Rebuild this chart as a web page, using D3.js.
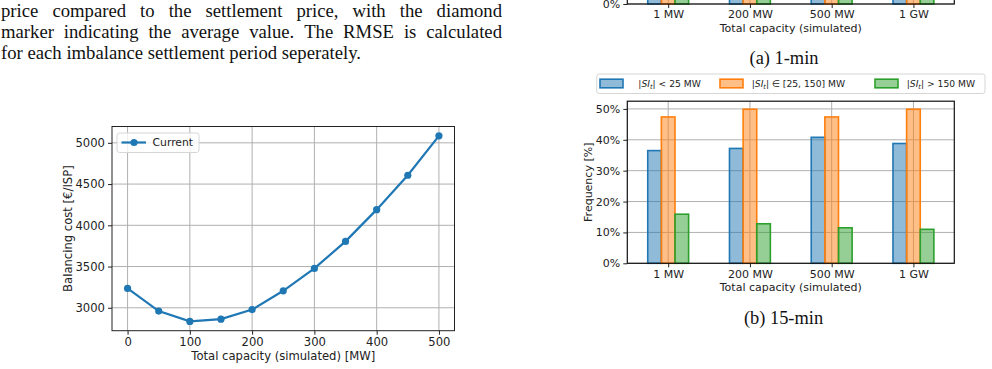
<!DOCTYPE html>
<html><head><meta charset="utf-8">
<script src="https://cdn.jsdelivr.net/npm/d3@7"></script>
<style>
html,body{margin:0;padding:0;background:#fff;}
svg{display:block;}
</style></head>
<body>
<script>
// ---------------- data ----------------
const capacityMW = [0, 50, 100, 150, 200, 250, 300, 350, 400, 450, 500];
const balancingCost = [3235, 2960, 2835, 2862, 2978, 3206, 3477, 3805, 4190, 4607, 5085];
const lineSeriesName = "Current";
const xTicksLeft = [0, 100, 200, 300, 400, 500];
const yTicksLeft = [3000, 3500, 4000, 4500, 5000];

const barCategories = ["1 MW", "200 MW", "500 MW", "1 GW"];
const freq15Small = [36.5, 37.2, 40.8, 38.8];
const freq15Mid = [47.4, 49.9, 47.4, 49.9];
const freq15Large = [15.9, 12.8, 11.5, 11.0];
// (a) 1-min panel: only the bar bases are visible in the crop (estimates)
const freq1Small = [36, 37, 40, 38];
const freq1Mid = [47, 49, 47, 49];
const freq1Large = [16, 13, 12, 11];
const yTicksPct = [0, 10, 20, 30, 40, 50];

const paragraph = [
  "price compared to the settlement price, with the diamond",
  "marker indicating the average value. The RMSE is calculated",
  "for each imbalance settlement period seperately."
];

// ---------------- setup ----------------
const W = 992, H = 369;
const svg = d3.select("body").append("svg").attr("width", W).attr("height", H);
svg.append("rect").attr("width", W).attr("height", H).attr("fill", "#fff");

const SANS = "DejaVu Sans, sans-serif";
const SERIF = "Liberation Serif, Times New Roman, serif";
const GRID = "#b0b0b0";
const C = {blue: "#1f77b4", orange: "#ff7f0e", green: "#2ca02c"};

function measure(str, size) {
  const t = svg.append("text").attr("font-family", SERIF).attr("font-size", size).text(str);
  const w = t.node().getComputedTextLength();
  t.remove();
  return w;
}
const serifSize = Math.min(19.5, Math.max(14, 10 * 360 / measure(paragraph[2], 10)));
const capSize = Math.min(19.5, Math.max(14, 10 * 69 / measure("(a) 1-min", 10)));

// ---------------- paragraph ----------------
const para = svg.append("g");
const lineY = [17, 38, 59];
paragraph.forEach((line, i) => {
  const words = line.split(" ");
  const g = para.append("g");
  const nodes = words.map(w => g.append("text").text(w)
      .attr("font-family", SERIF).attr("font-size", serifSize).attr("fill", "#111")
      .attr("y", lineY[i]));
  const widths = nodes.map(n => n.node().getComputedTextLength());
  const total = d3.sum(widths);
  const x0 = 1, x1 = 502;
  const justify = i < paragraph.length - 1;
  const gap = justify ? (x1 - x0 - total) / (words.length - 1) : serifSize * 0.25;
  let x = x0;
  nodes.forEach((n, k) => { n.attr("x", x); x += widths[k] + gap; });
});

// ---------------- left line chart ----------------
const L = {l: 112, r: 454.5, t: 126.5, b: 330.7};
const xL = d3.scaleLinear().domain([-25, 525]).range([L.l, L.r]);
const yL = d3.scaleLinear().domain([2722, 5198]).range([L.b, L.t]);
const gL = svg.append("g");

gL.append("g").selectAll("line").data(xTicksLeft).join("line")
  .attr("x1", d => xL(d)).attr("x2", d => xL(d)).attr("y1", L.t).attr("y2", L.b)
  .attr("stroke", GRID).attr("stroke-width", 1);
gL.append("g").selectAll("line").data(yTicksLeft).join("line")
  .attr("y1", d => yL(d)).attr("y2", d => yL(d)).attr("x1", L.l).attr("x2", L.r)
  .attr("stroke", GRID).attr("stroke-width", 1);

const axBL = gL.append("g").attr("transform", `translate(0,${L.b})`)
  .call(d3.axisBottom(xL).tickValues(xTicksLeft).tickSize(4).tickPadding(3).tickFormat(d3.format("d")));
const axLL = gL.append("g").attr("transform", `translate(${L.l},0)`)
  .call(d3.axisLeft(yL).tickValues(yTicksLeft).tickSize(4).tickPadding(3).tickFormat(d3.format("d")));
[axBL, axLL].forEach(a => {
  a.select(".domain").remove();
  a.selectAll("text").attr("font-family", SANS).attr("font-size", 11.6).attr("fill", "#222");
  a.selectAll("line").attr("stroke", "#222");
});
gL.append("rect").attr("x", L.l).attr("y", L.t).attr("width", L.r - L.l).attr("height", L.b - L.t)
  .attr("fill", "none").attr("stroke", "#222").attr("stroke-width", 1);

gL.append("path").datum(capacityMW.map((c, i) => [c, balancingCost[i]]))
  .attr("d", d3.line().x(d => xL(d[0])).y(d => yL(d[1])))
  .attr("fill", "none").attr("stroke", C.blue).attr("stroke-width", 2.2);
gL.append("g").selectAll("circle").data(capacityMW).join("circle")
  .attr("cx", d => xL(d)).attr("cy", (d, i) => yL(balancingCost[i])).attr("r", 3.6)
  .attr("fill", C.blue);

gL.append("text").attr("x", (L.l + L.r) / 2).attr("y", 360).attr("text-anchor", "middle")
  .attr("font-family", SANS).attr("font-size", 11.6).attr("fill", "#222")
  .text("Total capacity (simulated) [MW]");
gL.append("text").attr("transform", `translate(71.5,${(L.t + L.b) / 2}) rotate(-90)`)
  .attr("text-anchor", "middle").attr("font-family", SANS).attr("font-size", 11.6).attr("fill", "#222")
  .text("Balancing cost [€/ISP]");

const lg = gL.append("g");
lg.append("rect").attr("x", 117).attr("y", 133).attr("width", 82).attr("height", 19.5).attr("rx", 2.5)
  .attr("fill", "#fff").attr("fill-opacity", 0.8).attr("stroke", "#d6d6d6");
lg.append("line").attr("x1", 121.5).attr("x2", 146).attr("y1", 142.5).attr("y2", 142.5)
  .attr("stroke", C.blue).attr("stroke-width", 2.2);
lg.append("circle").attr("cx", 134).attr("cy", 142.5).attr("r", 3.6).attr("fill", C.blue);
lg.append("text").attr("x", 152.5).attr("y", 146.3).attr("font-family", SANS).attr("font-size", 10.8)
  .attr("fill", "#222").text(lineSeriesName);

// ---------------- bar charts ----------------
function barPanel(g, yBottom, yTop, sets, showYLabel, yTickVals, clipTop) {
  const xB = d3.scaleLinear().domain([-0.5, 3.5]).range([627.3, 954.3]);
  const yB = d3.scaleLinear().domain([0, 52.5]).range([yBottom, yTop]);
  const bw = 1 / 6;
  const top = Math.max(yTop, clipTop);
  g.append("g").selectAll("line").data(barCategories).join("line")
    .attr("x1", (d, i) => xB(i)).attr("x2", (d, i) => xB(i)).attr("y1", top).attr("y2", yBottom)
    .attr("stroke", GRID).attr("stroke-width", 1);
  g.append("g").selectAll("line").data(yTickVals).join("line")
    .attr("y1", d => yB(d)).attr("y2", d => yB(d)).attr("x1", 627.3).attr("x2", 954.3)
    .attr("stroke", GRID).attr("stroke-width", 1);
  sets.forEach((s, k) => {
    g.append("g").selectAll("rect").data(s.values).join("rect")
      .attr("x", (d, i) => xB(i + (k - 1) * bw - bw / 2))
      .attr("width", xB(bw) - xB(0))
      .attr("y", d => Math.max(yB(d), clipTop - 5)).attr("height", d => yB(0) - Math.max(yB(d), clipTop - 5))
      .attr("fill", s.color).attr("fill-opacity", 0.5)
      .attr("stroke", s.color).attr("stroke-width", 1.6);
  });
  const ax = g.append("g").attr("transform", `translate(0,${yBottom})`)
    .call(d3.axisBottom(xB).tickValues([0, 1, 2, 3]).tickSize(4).tickPadding(2.5)
      .tickFormat(i => barCategories[i]));
  const ay = g.append("g").attr("transform", `translate(627.3,0)`)
    .call(d3.axisLeft(yB).tickValues(yTickVals).tickSize(4).tickPadding(3).tickFormat(d => d + "%"));
  [ax, ay].forEach(a => {
    a.select(".domain").remove();
    a.selectAll("text").attr("font-family", SANS).attr("font-size", 11).attr("fill", "#222");
    a.selectAll("line").attr("stroke", "#222");
  });
  const rTop = Math.max(yTop, clipTop - 5);
  g.append("rect").attr("x", 627.3).attr("y", rTop).attr("width", 954.3 - 627.3).attr("height", yBottom - rTop)
    .attr("fill", "none").attr("stroke", "#111").attr("stroke-width", 1.2);
  g.append("text").attr("x", 790.8).attr("y", yBottom + 27.5).attr("text-anchor", "middle")
    .attr("font-family", SANS).attr("font-size", 11).attr("fill", "#222").text("Total capacity (simulated)");
  if (showYLabel) {
    g.append("text").attr("transform", `translate(592,${(yTop + yBottom) / 2}) rotate(-90)`)
      .attr("text-anchor", "middle").attr("font-family", SANS).attr("font-size", 11).attr("fill", "#222")
      .text("Frequency [%]");
  }
}

// (a) 1-min (cropped at the top of the page; only its base is in view)
const gA = svg.append("g");
barPanel(gA, 4, 4 - 162.3, [
  {values: freq1Small, color: C.blue},
  {values: freq1Mid, color: C.orange},
  {values: freq1Large, color: C.green}
], false, [0], 0);
svg.append("text").attr("x", 784).attr("y", 63.5).attr("text-anchor", "middle")
  .attr("font-family", SERIF).attr("font-size", capSize).attr("fill", "#111").text("(a) 1-min");

// (b) 15-min
const gB = svg.append("g");
barPanel(gB, 263.3, 101.2, [
  {values: freq15Small, color: C.blue},
  {values: freq15Mid, color: C.orange},
  {values: freq15Large, color: C.green}
], true, yTicksPct, 0);
svg.append("text").attr("x", 783.5).attr("y", 323.5).attr("text-anchor", "middle")
  .attr("font-family", SERIF).attr("font-size", capSize).attr("fill", "#111").text("(b) 15-min");

// legend (b)
const lb = svg.append("g");
lb.append("rect").attr("x", 596.7).attr("y", 74).attr("width", 388.3).attr("height", 19.5).attr("rx", 2.5)
  .attr("fill", "#fff").attr("fill-opacity", 0.8).attr("stroke", "#d6d6d6");
const legItems = [
  {x: 600, color: C.blue, tx: 638.3, rest: "| < 25 MW"},
  {x: 720, color: C.orange, tx: 751.7, rest: "| ∈ [25, 150] MW"},
  {x: 875, color: C.green, tx: 906.7, rest: "| > 150 MW"}
];
legItems.forEach(it => {
  lb.append("rect").attr("x", it.x).attr("y", 79.2).attr("width", 23).attr("height", 8.6)
    .attr("fill", it.color).attr("fill-opacity", 0.5).attr("stroke", it.color).attr("stroke-width", 1.6);
  const t = lb.append("text").attr("x", it.tx).attr("y", 87.3).attr("font-family", SANS)
    .attr("font-size", 9.2).attr("fill", "#222");
  t.append("tspan").text("|");
  t.append("tspan").attr("font-style", "italic").text("SI");
  t.append("tspan").attr("font-style", "italic").attr("font-size", 6.5).attr("dy", 1.8).text("t");
  t.append("tspan").attr("dy", -1.8).text(it.rest);
});
</script>
</body></html>
